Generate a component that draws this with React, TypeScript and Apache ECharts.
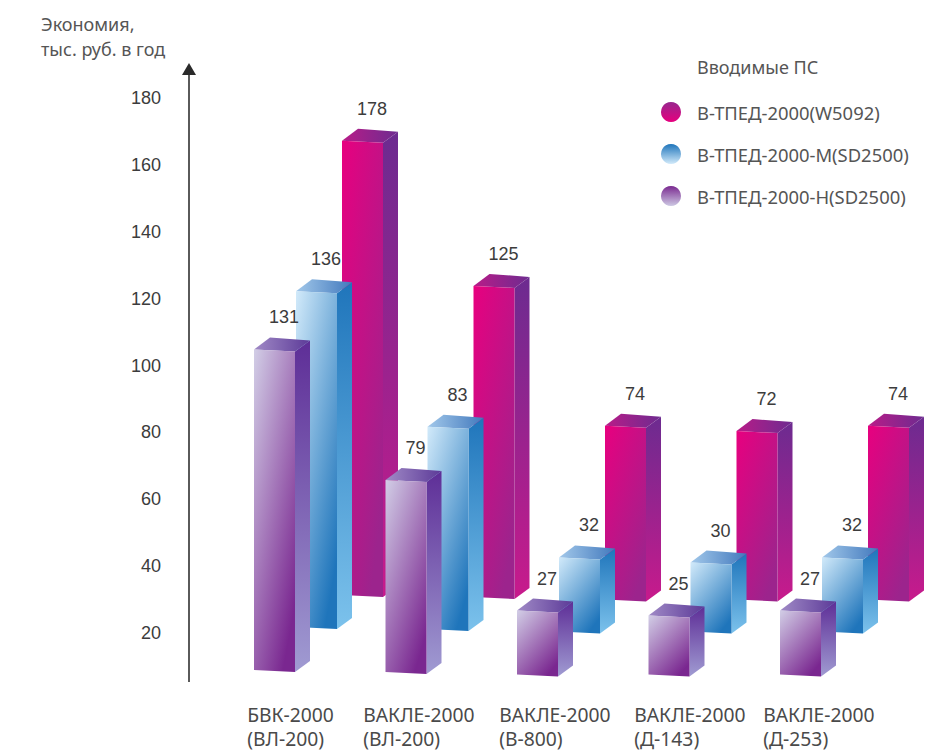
import React, { useEffect, useRef } from "react";
import * as echarts from "echarts";

// Plants and their grade in brackets.
const plants = [
  "БВК-2000\n(ВЛ-200)",
  "ВАКЛЕ-2000\n(ВЛ-200)",
  "ВАКЛЕ-2000\n(В-800)",
  "ВАКЛЕ-2000\n(Д-143)",
  "ВАКЛЕ-2000\n(Д-253)",
];
const plantLabelPadding = [15.5, 0, 4.5, 8, 5.5];

const seriesNames = ["В-ТПЕД-2000(W5092)", "В-ТПЕД-2000-М(SD2500)", "В-ТПЕД-2000-Н(SD2500)"];
const savingsW5092 = [178, 125, 74, 72, 74];
const savingsM = [136, 83, 32, 30, 32];
const savingsH = [131, 79, 27, 25, 27];

const tickValues = [20, 40, 60, 80, 100, 120, 140, 160, 180];

const WIDTH = 926;
const HEIGHT = 751;
const GRID = { left: 166, right: 822, top: 31, bottom: 700 };

// Box proportions of the pseudo-3D columns.
const BOX = { w: 41, dx: 15, dy: -11, tilt: 2, labelDx: 30, labelDy: -32 };
// The floor sags slightly toward the right-hand groups.
const floorSag = [0, 2, 4.5, 4.5, 4.5];

const grad = (x2: number, y2: number, a: string, b: string) =>
  new echarts.graphic.LinearGradient(0, 0, x2, y2, [
    { offset: 0, color: a },
    { offset: 1, color: b },
  ]);

// Each row stands at its own depth, so it has its own hidden value scale.
const rows = [
  {
    values: savingsW5092,
    offset: 110.25,
    zero: 628.4,
    pxPerUnit: 2.74,
    floor: 12.2,
    front: ["#e8007f", "#9c248d"],
    side: ["#6c2b90", "#c81a8c"],
    top: ["#b81c88", "#6e2b90"],
    legend: ["#97278e", "#e6007e"],
  },
  {
    values: savingsM,
    offset: 64.25,
    zero: 639.3,
    pxPerUnit: 2.56,
    floor: 4.8,
    front: ["#d2eafa", "#1f75bb"],
    side: ["#1f75bb", "#7cc2ec"],
    top: ["#a2c8ea", "#4279bd"],
    legend: ["#1f75bb", "#d2eafa"],
  },
  {
    values: savingsH,
    offset: 22.25,
    zero: 678.3,
    pxPerUnit: 2.51,
    floor: 3.3,
    front: ["#d2cee6", "#7a2790"],
    side: ["#5e2e97", "#a09bd2"],
    top: ["#a08ac6", "#5c3a98"],
    legend: ["#7a2a90", "#cdc8e3"],
  },
];

const hiddenAxis = (zero: number, pxPerUnit: number) => ({
  type: "value",
  show: false,
  min: (zero - GRID.bottom) / pxPerUnit,
  max: (zero - GRID.top) / pxPerUnit,
  splitLine: { show: false },
});

const makeColumn = (row: (typeof rows)[number]) => (_params: any, api: any) => {
  const index = api.value(0);
  const value = api.value(1);
  const [band, topY] = api.coord([index, value]);
  const [, floorY] = api.coord([index, row.floor]);
  const x = band + row.offset;
  const baseY = floorY + floorSag[index];
  const { w, dx, dy, tilt } = BOX;
  const polygon = (points: number[][], fill: any) => ({
    type: "polygon",
    shape: { points },
    style: { fill, stroke: null },
    silent: true,
  });
  return {
    type: "group",
    children: [
      polygon(
        [
          [x + w, topY + tilt],
          [x + w + dx, topY + tilt + dy],
          [x + w + dx, baseY + tilt + dy],
          [x + w, baseY + tilt],
        ],
        grad(0, 1, row.side[0], row.side[1])
      ),
      polygon(
        [
          [x, topY],
          [x + dx + 1, topY + dy - 1],
          [x + w + dx, topY + tilt + dy],
          [x + w, topY + tilt],
        ],
        grad(1, 0, row.top[0], row.top[1])
      ),
      polygon(
        [
          [x, topY],
          [x + w, topY + tilt],
          [x + w, baseY + tilt],
          [x, baseY],
        ],
        grad(0.7, 1, row.front[0], row.front[1])
      ),
      {
        type: "text",
        silent: true,
        style: {
          x: x + BOX.labelDx,
          y: topY + BOX.labelDy,
          text: String(value),
          align: "center",
          verticalAlign: "middle",
          font: '18px "Liberation Sans"',
          fill: "#3c3c3c",
        },
      },
    ],
  };
};

export default function App() {
  const ref = useRef<HTMLDivElement>(null);

  useEffect(() => {
    const chart = echarts.init(ref.current, undefined, { renderer: "svg" });
    const textFont = '"Noto Sans"';
    chart.setOption({
      animation: false,
      backgroundColor: "#ffffff",
      title: [
        {
          text: "Экономия,\nтыс. руб. в год",
          left: 41,
          top: 11,
          padding: 0,
          textStyle: { fontFamily: textFont, fontSize: 18, fontWeight: "normal", color: "#555555", lineHeight: 25 },
        },
        {
          text: "Вводимые ПС",
          left: 697,
          top: 55,
          padding: 0,
          textStyle: { fontFamily: textFont, fontSize: 18, fontWeight: "normal", color: "#555555", lineHeight: 24 },
        },
      ],
      legend: {
        orient: "vertical",
        left: 661,
        top: 101,
        padding: 0,
        icon: "circle",
        itemWidth: 20,
        itemHeight: 22,
        itemGap: 20,
        selectedMode: false,
        textStyle: { fontFamily: textFont, fontSize: 18.4, lineHeight: 22, color: "#555555", padding: [0, 0, 0, 11] },
        data: seriesNames,
      },
      grid: {
        left: GRID.left,
        top: GRID.top,
        width: GRID.right - GRID.left + 1.5,
        height: GRID.bottom - GRID.top,
        containLabel: false,
        outerBoundsMode: "none",
      },
      xAxis: {
        type: "category",
        data: plants.map((value, i) => ({
          value,
          textStyle: { align: "left", padding: [0, 0, 0, plantLabelPadding[i]] },
        })),
        axisLine: { show: false },
        axisTick: { show: false },
        axisLabel: {
          interval: 0,
          align: "left",
          margin: 3,
          fontFamily: textFont,
          fontSize: 19.3,
          lineHeight: 23.5,
          color: "#4a4a4a",
        },
      },
      yAxis: [
        {
          type: "value",
          min: 0,
          max: 200,
          interval: 20,
          splitLine: { show: false },
          axisLine: { show: false },
          axisTick: { show: false },
          axisLabel: {
            margin: 5,
            fontFamily: '"Liberation Sans"',
            fontSize: 18,
            color: "#3c3c3c",
            formatter: (v: number) => (tickValues.includes(v) ? String(v) : ""),
          },
        },
        ...rows.map((r) => hiddenAxis(r.zero, r.pxPerUnit)),
      ],
      series: rows.map((row, k) => ({
        type: "custom",
        name: seriesNames[k],
        xAxisIndex: 0,
        yAxisIndex: k + 1,
        clip: false,
        silent: true,
        itemStyle: { color: grad(0, 1, row.legend[0], row.legend[1]) },
        encode: { x: 0, y: 1 },
        data: row.values.map((v, i) => [i, v]),
        renderItem: makeColumn(row),
      })),
      graphic: [
        {
          type: "line",
          silent: true,
          shape: { x1: 189, y1: 72, x2: 189, y2: 682 },
          style: { stroke: "#5a5a5a", lineWidth: 2 },
        },
        {
          type: "polygon",
          silent: true,
          shape: { points: [[189, 63], [196, 75], [182, 75]] },
          style: { fill: "#2a2a2a" },
        },
      ],
    });
    return () => chart.dispose();
  }, []);

  return (
    <div
      ref={ref}
      style={{ position: "absolute", left: 0, top: 0, width: WIDTH, height: HEIGHT }}
    />
  );
}
